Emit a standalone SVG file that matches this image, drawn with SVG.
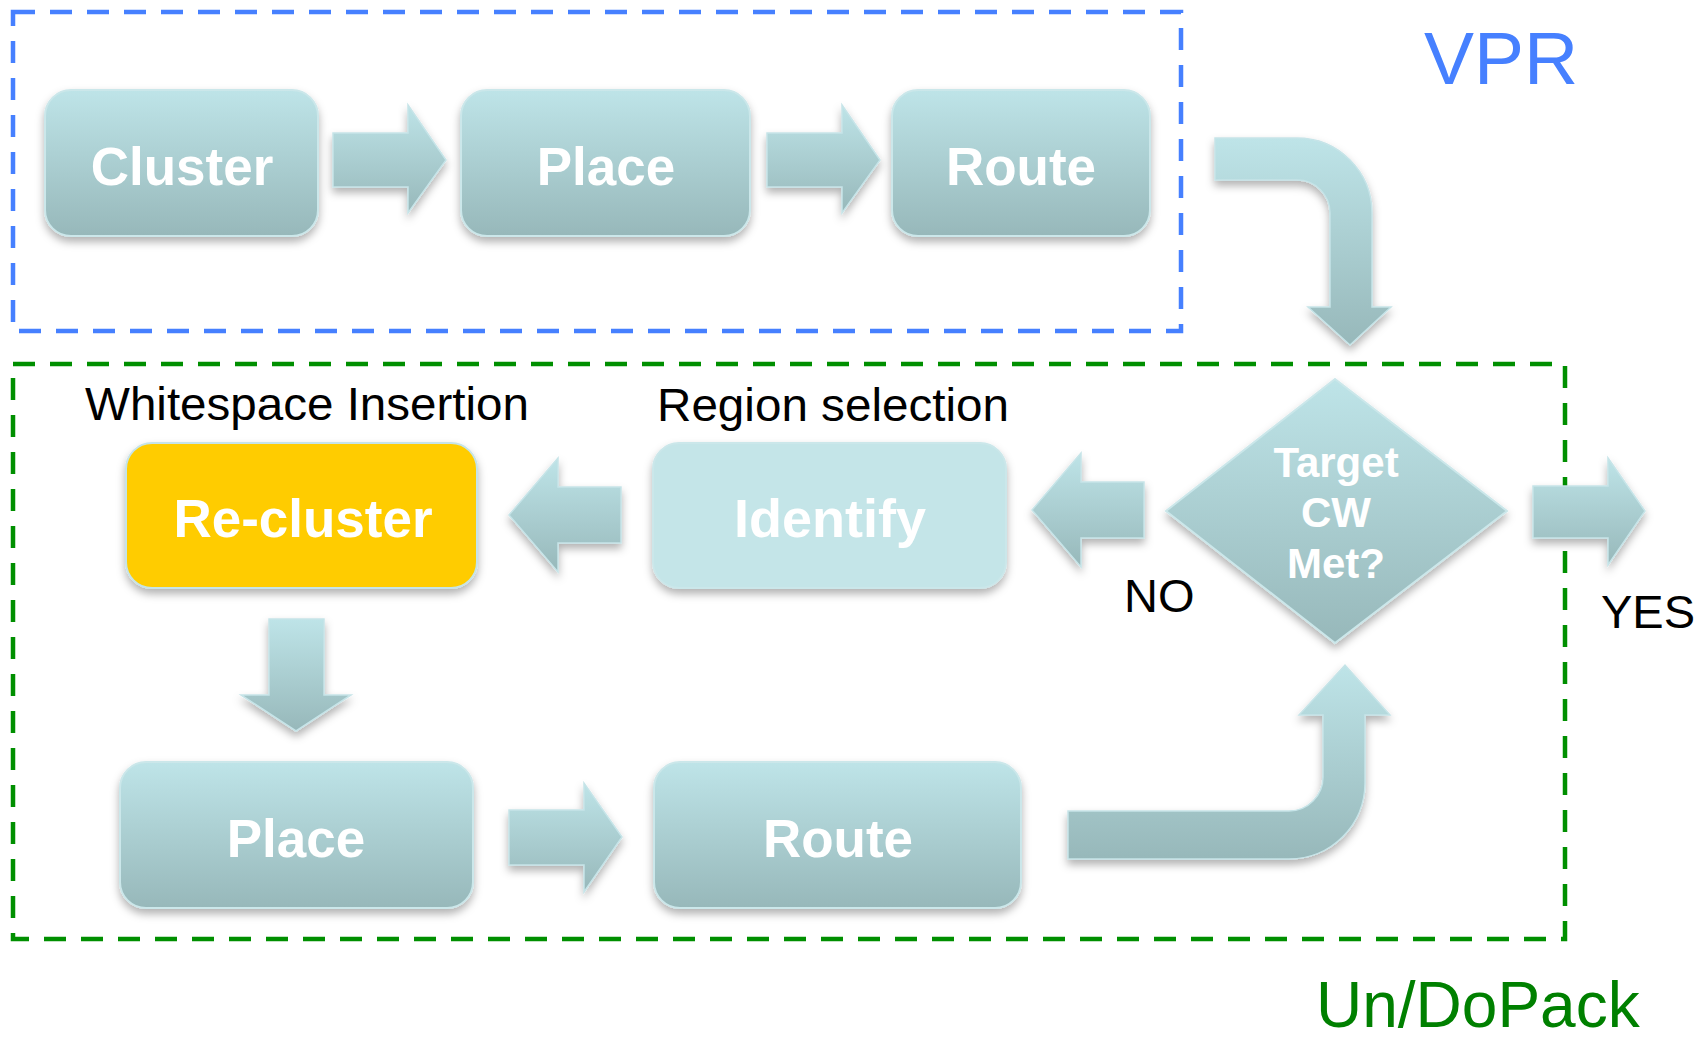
<svg xmlns="http://www.w3.org/2000/svg" width="1705" height="1040" viewBox="0 0 1705 1040">
<defs>
<linearGradient id="g" x1="0" y1="0" x2="0" y2="1">
<stop offset="0" stop-color="#bee4e8"/>
<stop offset="1" stop-color="#97b8ba"/>
</linearGradient>
<filter id="sh" x="-10%" y="-10%" width="120%" height="130%">
<feDropShadow dx="0" dy="5" stdDeviation="4" flood-color="#000" flood-opacity="0.3"/>
</filter>
<style>
.box{fill:url(#g);stroke:#cbe7ea;stroke-width:2;filter:url(#sh)}
.arr{fill:url(#g);stroke:#c6e4e8;stroke-width:1.5;filter:url(#sh)}
.bl{font-family:"Liberation Sans",Arial,sans-serif;font-weight:bold;fill:#fff;text-anchor:middle}
.lbl{font-family:"Liberation Sans",Arial,sans-serif;fill:#000}
</style>
</defs>
<rect width="1705" height="1040" fill="#fff"/>
<g id="vpr-frame">
<rect x="13" y="12" width="1168" height="319" fill="none" stroke="#4680ff" stroke-width="4.5" stroke-dasharray="22 15"/>
<text x="1424" y="84" font-family="Liberation Sans,Arial,sans-serif" font-size="75" fill="#4680ff">VPR</text>
</g>
<g id="undopack-frame">
<rect x="13" y="364" width="1552" height="575" fill="none" stroke="#008f00" stroke-width="4.5" stroke-dasharray="22 15"/>
<text x="1316" y="1027" font-family="Liberation Sans,Arial,sans-serif" font-size="64" fill="#008000">Un/DoPack</text>
</g>
<g id="connectors">
<path class="arr" d="M333,133 H408 V105 L446,160 L408,213 V187 H333 Z"/>
<path class="arr" d="M767,133 H842 V105 L880,160 L842,213 V187 H767 Z"/>
<path class="arr" d="M1215,138 H1297 A75,75 0 0 1 1372,213 V307 H1391 L1350,345 L1308,307 H1330 V213 A33,33 0 0 0 1297,180 H1215 Z"/>
<path class="arr" d="M1144,482 H1081 V453 L1032,510 L1081,567 V538 H1144 Z"/>
<path class="arr" d="M621,487 H558 V458 L509,515 L558,572 V543 H621 Z"/>
<path class="arr" d="M269,619 H324 V695 H351 L296,731 L241,695 H269 Z"/>
<path class="arr" d="M509,810 H584 V783 L622,837 L584,892 V865 H509 Z"/>
<path class="arr" d="M1068,811 H1289 A34,34 0 0 0 1323,777 V715 H1299 L1345,665 L1390,715 H1365 V783 A76,76 0 0 1 1289,859 H1068 Z"/>
<path class="arr" d="M1533,486 H1608 V458 L1645,511 L1608,565 V538 H1533 Z"/>
<text class="lbl" x="1124" y="612" font-size="47">NO</text>
<text class="lbl" x="1601" y="628" font-size="47">YES</text>
</g>
<g id="cluster">
<rect class="box" x="45" y="90" width="273" height="146" rx="26"/>
<text class="bl" x="182" y="185" font-size="53">Cluster</text>
</g>
<g id="place-top">
<rect class="box" x="461" y="90" width="289" height="146" rx="26"/>
<text class="bl" x="606" y="185" font-size="53">Place</text>
</g>
<g id="route-top">
<rect class="box" x="892" y="90" width="258" height="146" rx="26"/>
<text class="bl" x="1021" y="185" font-size="53">Route</text>
</g>
<g id="target-cw">
<polygon class="box" points="1335,379 1507,511 1335,643 1166,511"/>
<text class="bl" x="1336" y="477" font-size="42">Target</text>
<text class="bl" x="1336" y="527" font-size="42">CW</text>
<text class="bl" x="1336" y="578" font-size="42">Met?</text>
</g>
<g id="identify">
<text class="lbl" x="657" y="421" font-size="47" textLength="352" lengthAdjust="spacingAndGlyphs">Region selection</text>
<rect x="653" y="443" width="353" height="145" rx="26" fill="#c4e5e8" stroke="#cbe7ea" stroke-width="2" filter="url(#sh)"/>
<text class="bl" x="830" y="537" font-size="54">Identify</text>
</g>
<g id="recluster">
<text class="lbl" x="85" y="420" font-size="47" textLength="444" lengthAdjust="spacingAndGlyphs">Whitespace Insertion</text>
<rect x="126" y="443" width="351" height="145" rx="26" fill="#ffcc00" stroke="#c6e4e8" stroke-width="2" filter="url(#sh)"/>
<text class="bl" x="303" y="537" font-size="53">Re-cluster</text>
</g>
<g id="place-bottom">
<rect class="box" x="120" y="762" width="353" height="146" rx="26"/>
<text class="bl" x="296" y="857" font-size="53">Place</text>
</g>
<g id="route-bottom">
<rect class="box" x="654" y="762" width="367" height="146" rx="26"/>
<text class="bl" x="838" y="857" font-size="53">Route</text>
</g>
</svg>
